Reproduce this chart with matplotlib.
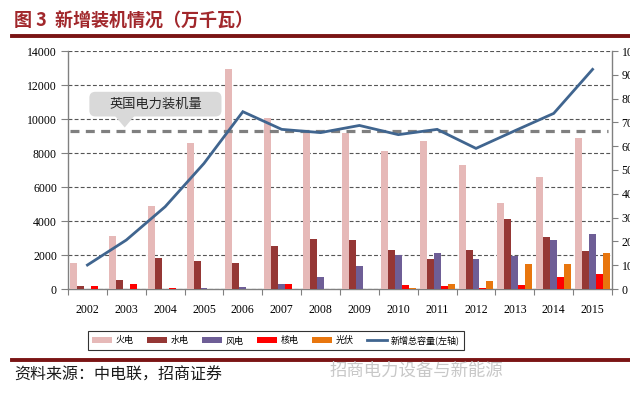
import matplotlib
matplotlib.use("Agg")
import matplotlib.pyplot as plt
import numpy as np
from matplotlib.patches import FancyBboxPatch, Polygon, Patch
from matplotlib.lines import Line2D
from matplotlib.transforms import IdentityTransform

# ---------------- data ----------------
years = ['2002', '2003', '2004', '2005', '2006', '2007', '2008', '2009',
         '2010', '2011', '2012', '2013', '2014', '2015']
thermal = [1550, 3140, 4900, 8590, 12940, 10080, 9250, 9200, 8140, 8690, 7290, 5040, 6590, 8860]
hydro = [190, 550, 1830, 1670, 1550, 2530, 2960, 2900, 2270, 1760, 2290, 4120, 3040, 2210]
wind = [0, 0, 0, 30, 100, 290, 690, 1340, 2000, 2100, 1760, 1960, 2880, 3230]
nuclear = [190, 310, 60, 0, 0, 290, 0, 0, 210, 190, 40, 240, 720, 900]
solar = [0, 0, 0, 0, 0, 0, 0, 0, 60, 310, 490, 1470, 1450, 2100]
total_new = [1410, 2880, 4840, 7390, 10430, 9390, 9200, 9620, 9080, 9390, 8270, 9310, 10330, 12920]
uk_capacity = 9300

series_names = ['火电', '水电', '风电', '核电', '光伏']
line_name = '新增总容量(左轴)'
callout_text = '英国电力装机量'
title_text = '图 3  新增装机情况（万千瓦）'
source_text = '资料来源：中电联，招商证券'
watermark_text = '招商电力设备与新能源'

colors = ['#E6B9B8', '#953735', '#6E5E96', '#FF0000', '#E8760E']
line_color = '#40658F'

CJK = ['Noto Sans CJK SC', 'DejaVu Sans']
SERIF = ['Liberation Serif', 'DejaVu Serif']

# ---------------- figure ----------------
fig = plt.figure(figsize=(6.3, 3.99), dpi=100)
ax = fig.add_axes([68/630, 1-289/399, 544/630, 238/399])

x = np.arange(len(years))
w = 0.18
for k, (vals, c) in enumerate(zip([thermal, hydro, wind, nuclear, solar], colors)):
    ax.bar(x + (k-2)*w, vals, width=w, color=c, linewidth=0, zorder=3)

ax.plot(x, total_new, color=line_color, lw=2.0, zorder=5, solid_joinstyle='miter')
ax.axhline(uk_capacity, xmin=2/544, xmax=540/544, color='#7F7F7F', lw=2.3,
           dashes=(2.8, 2.0), zorder=4)

ax.set_xlim(-0.5, len(years)-0.5)
ax.set_ylim(0, 14000)
ax.set_yticks(np.arange(0, 14001, 2000))
ax.set_yticklabels([str(v) for v in range(0, 14001, 2000)], fontsize=8.5, family=SERIF)
ax.yaxis.grid(True, color='#555555', lw=0.8, dashes=(3.5, 2.0), zorder=0)
ax.set_axisbelow(True)

ax.set_xticks(np.arange(len(years)+1) - 0.5)
ax.set_xticklabels([])
ax.set_xticks(x, minor=True)
ax.set_xticklabels(years, minor=True, fontsize=8.5, family=SERIF)
ax.tick_params(axis='x', which='major', length=4, direction='out', color='#808080')
ax.tick_params(axis='x', which='minor', length=0, pad=11)
ax.tick_params(axis='y', length=5, direction='out', color='#808080', pad=3)

for s in ['top', 'right']:
    ax.spines[s].set_visible(False)
for s in ['left', 'bottom']:
    ax.spines[s].set_color('#808080')
    ax.spines[s].set_linewidth(1.0)

ax2 = ax.twinx()
ax2.set_ylim(0, 100)
ax2.set_yticks(np.arange(0, 101, 10))
ax2.set_yticklabels([str(v) for v in range(0, 101, 10)], fontsize=8.5, family=SERIF)
ax2.tick_params(axis='y', length=4, direction='out', color='#808080', pad=3)
for s in ['top', 'left', 'bottom']:
    ax2.spines[s].set_visible(False)
ax2.spines['right'].set_color('#808080')
ax2.spines['right'].set_linewidth(1.0)

# ---------------- callout ----------------
fig.canvas.draw()
T = ax.transData
(bx0, by0) = T.transform((0.05, 10150))
(bx1, by1) = T.transform((3.45, 11600))
box = FancyBboxPatch((bx0, by0), bx1-bx0, by1-by0,
                     boxstyle='round,pad=0,rounding_size=6',
                     facecolor='#D9D9D9', edgecolor='none',
                     transform=IdentityTransform(), zorder=6)
fig.patches.append(box)
apex = T.transform((0.96, 9500))
tri = Polygon([(T.transform((0.70, 10150))[0], by0 + 1),
               (T.transform((1.22, 10150))[0], by0 + 1),
               tuple(apex)], closed=True, facecolor='#D9D9D9', edgecolor='none',
              transform=IdentityTransform(), zorder=6)
fig.patches.append(tri)
fig.text((bx0+bx1)/2/630, (by0+by1)/2/399, callout_text, ha='center', va='center',
         fontsize=9.5, family=CJK, color='#262626', zorder=7)

# ---------------- title & rules ----------------
fig.text(14/630, 1-20/399, title_text, ha='left', va='center', fontsize=13,
         fontweight='bold', family=CJK, color='#A1272B')
fig.add_artist(Line2D([12/630, 1.0], [1-35.5/399, 1-35.5/399], color='#7A1414', lw=2.8))
fig.add_artist(Line2D([12/630, 1.0], [1-360/399, 1-360/399], color='#7A1414', lw=2.8))

# ---------------- legend ----------------
handles = [Patch(facecolor=c, edgecolor='none') for c in colors]
handles.append(Line2D([0], [0], color=line_color, lw=2))
leg = fig.legend(handles, series_names + [line_name], ncol=6, loc='center',
                 bbox_to_anchor=(276/630, 1-340.5/399), frameon=True, fancybox=False,
                 prop={'family': CJK, 'size': 6.5}, handlelength=2.2, handleheight=0.7,
                 handletextpad=0.4, columnspacing=1.5, borderpad=0.45, borderaxespad=0)
leg.get_frame().set_edgecolor('black')
leg.get_frame().set_linewidth(0.8)

# ---------------- footer ----------------
fig.text(14/630, 1-375/399, source_text, ha='left', va='center', fontsize=11.5,
         family=CJK, color='#1a1a1a')
fig.text(330/630, 1-371/399, watermark_text, ha='left', va='center', fontsize=12.5,
         family=CJK, color='#C8C8C8')

fig.savefig('out.png', dpi=100)
